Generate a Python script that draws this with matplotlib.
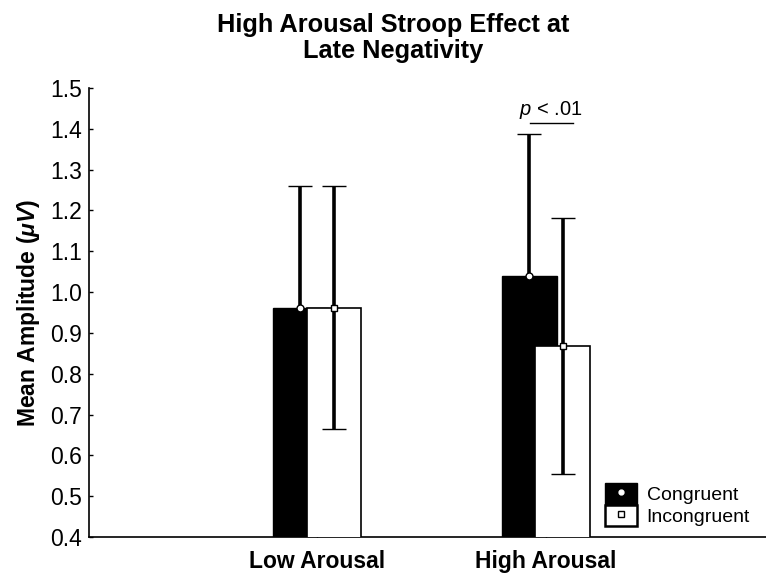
import numpy as np
import matplotlib
matplotlib.use('Agg')
import matplotlib.pyplot as plt
from matplotlib.patches import Patch
from matplotlib.lines import Line2D
from matplotlib.legend_handler import HandlerTuple

plt.rcParams['font.family'] = ['Liberation Sans', 'DejaVu Sans']
plt.rcParams['mathtext.fontset'] = 'custom'
plt.rcParams['mathtext.it'] = 'Liberation Sans:italic'
plt.rcParams['mathtext.rm'] = 'Liberation Sans'
plt.rcParams['mathtext.bfit'] = 'Liberation Sans:italic:bold'

# mean amplitude and error per condition
categories = ['Low Arousal', 'High Arousal']
congruent = [0.96, 1.04]
congruent_err = [0.30, 0.347]
incongruent = [0.962, 0.868]
incongruent_err = [0.297, 0.313]

x = np.arange(len(categories))
width = 0.24
shift = 0.074

fig = plt.figure(figsize=(7.66, 5.76), dpi=100)
ax = fig.add_axes([0.1162, 0.0677, 0.8838, 0.7795])

ax.bar(x - shift, congruent, width, color='black', edgecolor='black', linewidth=1, zorder=2)
ax.bar(x + shift, incongruent, width, color='white', edgecolor='black', linewidth=1.2, zorder=4)

# congruent bars sit behind the white ones, so their lower whiskers disappear
ax.errorbar(x - shift, congruent, yerr=congruent_err, fmt='o', color='black', ecolor='black',
            elinewidth=2.6, capsize=8.3, capthick=3, markersize=5, markerfacecolor='white',
            markeredgecolor='black', markeredgewidth=1, zorder=3)
ax.errorbar(x + shift, incongruent, yerr=incongruent_err, fmt='s', color='black', ecolor='black',
            elinewidth=2.6, capsize=8.3, capthick=3, markersize=5, markerfacecolor='white',
            markeredgecolor='black', markeredgewidth=1, zorder=5)

# significance marker
ax.plot([x[1] - 0.07, x[1] + 0.118], [1.415, 1.415], color='black', lw=1, zorder=6)
ax.text(x[1] + 0.02, 1.42, r'$p$ < .01', ha='center', va='bottom', fontsize=14.5)

ax.set_ylim(0.4, 1.5)
ax.set_xlim(-0.996, 1.961)
ticks = np.arange(0.4, 1.51, 0.1)
ax.set_yticks(ticks)
ax.set_yticklabels([f'{v:.1f}' for v in ticks], fontsize=16.5)
ax.set_xticks(x)
ax.set_xticklabels(categories, fontsize=16.5, fontweight='bold')
ax.tick_params(axis='both', direction='in', length=3, width=1, pad=5)
ax.tick_params(axis='x', pad=9)

for s in ['top', 'right']:
    ax.spines[s].set_visible(False)
for s in ['left', 'bottom']:
    ax.spines[s].set_linewidth(1.2)

ax.set_ylabel(r'Mean Amplitude ($\mathbfit{\mu V}$)', fontsize=16.5, fontweight='bold', labelpad=6)

fig.text(0.513, 0.978, 'High Arousal Stroop Effect at\nLate Negativity', ha='center', va='top',
         fontsize=18.3, fontweight='bold', linespacing=1.1)

h_con = (Patch(facecolor='black', edgecolor='black'),
         Line2D([], [], marker='o', ls='', markersize=3.5, markerfacecolor='white', markeredgecolor='white'))
h_inc = (Patch(facecolor='white', edgecolor='black', linewidth=1.8),
         Line2D([], [], marker='s', ls='', markersize=5, markerfacecolor='white', markeredgecolor='black'))
ax.legend([h_con, h_inc], ['Congruent', 'Incongruent'], handler_map={tuple: HandlerTuple(ndivide=1, pad=0)},
          loc='lower right', bbox_to_anchor=(0.992, 0.0), frameon=False, fontsize=14,
          handlelength=1.65, handleheight=1.3, handletextpad=0.5, labelspacing=0.05, borderaxespad=0.15)

fig.savefig('out.png', dpi=100)
